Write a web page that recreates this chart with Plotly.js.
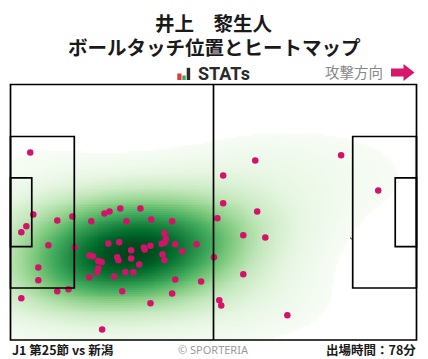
<!DOCTYPE html>
<html><head><meta charset="utf-8">
<script src="https://cdn.plot.ly/plotly-3.0.1.min.js"></script>
<style>html,body{margin:0;padding:0;background:#fff;}#chart{width:428px;height:359px;}</style>
</head><body><div id="chart"></div>
<script>
// Ball touch positions, pitch metres (x: 0..105 attacking to the right, y: 0 = top touchline .. 68)
const touchX = [5.1,5.9,16.0,12.1,20.9,24.3,25.6,28.4,33.6,30.0,36.4,41.8,4.1,2.8,9.8,16.6,25.3,28.1,39.8,40.2,39.8,39.1,42.6,48.1,44.4,36.2,34.5,34.7,31.2,39.3,39.8,31.2,27.6,27.9,33.3,20.4,21.3,22.7,23.6,22.7,22.4,29.7,31.8,26.8,20.4,7.2,7.2,12.1,15.0,2.8,28.9,42.6,41.8,49.3,36.2,23.7,52.6,63.3,55.0,85.5,95.1,55.0,63.8,53.5,60.2,65.9,60.2,54.0,54.5,71.6];
const touchY = [18.1,34.6,35.1,36.2,36.4,34.3,33.8,33.0,33.0,36.4,35.9,36.4,37.7,39.3,42.8,43.3,42.3,42.0,39.6,41.1,42.1,42.4,42.5,42.5,44.4,42.9,43.4,43.9,44.1,45.2,46.8,46.3,46.0,46.8,47.9,45.5,45.7,47.0,47.3,49.0,50.0,50.0,50.0,51.1,51.3,48.7,52.1,55.0,54.5,56.9,55.0,51.9,55.6,52.4,58.2,65.2,46.0,20.2,24.2,18.8,28.2,31.6,33.8,35.6,40.1,40.7,50.5,57.4,58.8,61.4];
const titleLines = ['井上　黎生人', 'ボールタッチ位置とヒートマップ'];
const brandText = 'STATs';
const directionText = '攻撃方向';
const matchText = 'J1 第25節 vs 新潟';
const creditText = '© SPORTERIA';
const minutesText = '出場時間：78分';
const greens = ['#f7fcf5','#e5f5e0','#c7e9c0','#a1d99b','#74c476','#41ab5d','#238b45','#006d2c','#00441b'];

// pitch geometry
const PL = 105, PW = 68;

// Gaussian KDE (Scott bandwidth x adjust, full covariance) of the touch positions
const bwAdjust = 1.6;
const n = touchX.length;
let mx = 0, my = 0;
for (let i = 0; i < n; i++) { mx += touchX[i]; my += touchY[i]; }
mx /= n; my /= n;
let sxx = 0, syy = 0, sxy = 0;
for (let i = 0; i < n; i++) {
  const dx = touchX[i] - mx, dy = touchY[i] - my;
  sxx += dx * dx; syy += dy * dy; sxy += dx * dy;
}
sxx /= (n - 1); syy /= (n - 1); sxy /= (n - 1);
const f2 = Math.pow(n, -1 / 3) * bwAdjust * bwAdjust;
const cxx = sxx * f2, cyy = syy * f2, cxy = sxy * f2;
const det = cxx * cyy - cxy * cxy;
const ixx = cyy / det, iyy = cxx / det, ixy = -cxy / det;
const step = 0.5;
const gx = [], gy = [];
for (let x = 0; x <= PL + 1e-9; x += step) gx.push(+x.toFixed(2));
for (let y = 0; y <= PW + 1e-9; y += step) gy.push(+y.toFixed(2));
const flat = [];
for (let j = 0; j < gy.length; j++) {
  for (let i = 0; i < gx.length; i++) {
    let s = 0;
    for (let k = 0; k < n; k++) {
      const dx = gx[i] - touchX[k], dy = gy[j] - touchY[k];
      s += Math.exp(-0.5 * (dx * dx * ixx + 2 * dx * dy * ixy + dy * dy * iyy));
    }
    flat.push(s);
  }
}
// iso-proportion transform (share of mass at or below each density)
const order = flat.map((v, i) => i).sort((a, b) => flat[a] - flat[b]);
const total = flat.reduce((a, b) => a + b, 0);
const q = new Array(flat.length);
let cum = 0;
for (const idx of order) { cum += flat[idx]; q[idx] = cum / total; }
const thresh = 0.03;
const zq = [];
for (let j = 0; j < gy.length; j++) {
  const row = [];
  for (let i = 0; i < gx.length; i++) {
    const v = q[j * gx.length + i];
    row.push(v < thresh ? null : v);
  }
  zq.push(row);
}
const colorscale = greens.map((c, i) => [i / (greens.length - 1), c]);

// layout geometry (pixels)
const W = 428, H = 359;
const mL = 5, mR = 6, mT = 80, mB = 14;
const areaW = W - mL - mR, areaH = H - mT - mB;
const PX = p => (p - mL) / areaW;
const PY = p => (H - mB - p) / areaH;

function arcPath(cx, cy, r, a0, a1) {
  let d = '';
  const steps = 40;
  for (let s = 0; s <= steps; s++) {
    const a = (a0 + (a1 - a0) * s / steps) * Math.PI / 180;
    const x = cx + r * Math.cos(a), y = cy + r * Math.sin(a);
    d += (s === 0 ? 'M ' : ' L ') + x.toFixed(3) + ',' + y.toFixed(3);
  }
  return d;
}
const lineStyle = {color: '#000', width: 1.7};
const arcA = Math.acos(5.5 / 9.15) * 180 / Math.PI;
const shapes = [
  {type: 'circle', xref: 'x', yref: 'y', x0: PL / 2 - 9.15, x1: PL / 2 + 9.15, y0: PW / 2 - 9.15, y1: PW / 2 + 9.15, line: {color: '#000', width: 1}, layer: 'below'},
  {type: 'path', xref: 'x', yref: 'y', path: arcPath(11, PW / 2, 9.15, -arcA, arcA), line: {color: '#000', width: 1}, layer: 'below'},
  {type: 'path', xref: 'x', yref: 'y', path: arcPath(PL - 11, PW / 2, 9.15, 180 - arcA, 180 + arcA), line: {color: '#000', width: 1}, layer: 'below'},
  {type: 'rect', xref: 'x', yref: 'y', x0: 0, x1: PL, y0: 0, y1: PW, line: lineStyle},
  {type: 'line', xref: 'x', yref: 'y', x0: PL / 2, x1: PL / 2, y0: 0, y1: PW, line: lineStyle},
  {type: 'rect', xref: 'x', yref: 'y', x0: 0, x1: 16.5, y0: PW / 2 - 20.16, y1: PW / 2 + 20.16, line: lineStyle},
  {type: 'rect', xref: 'x', yref: 'y', x0: 0, x1: 5.5, y0: PW / 2 - 9.16, y1: PW / 2 + 9.16, line: lineStyle},
  {type: 'rect', xref: 'x', yref: 'y', x0: PL - 16.5, x1: PL, y0: PW / 2 - 20.16, y1: PW / 2 + 20.16, line: lineStyle},
  {type: 'rect', xref: 'x', yref: 'y', x0: PL - 5.5, x1: PL, y0: PW / 2 - 9.16, y1: PW / 2 + 9.16, line: lineStyle},
  // STATs logo bars
  {type: 'rect', xref: 'paper', yref: 'paper', x0: PX(177.3), x1: PX(181.5), y0: PY(80), y1: PY(73.5), fillcolor: '#e53935', line: {width: 0}},
  {type: 'rect', xref: 'paper', yref: 'paper', x0: PX(182.3), x1: PX(185.7), y0: PY(80), y1: PY(75.5), fillcolor: '#34a853', line: {width: 0}},
  {type: 'rect', xref: 'paper', yref: 'paper', x0: PX(186.7), x1: PX(190.2), y0: PY(80), y1: PY(67.8), fillcolor: '#2b2b2b', line: {width: 0}},
  // direction arrow
  {type: 'path', xref: 'paper', yref: 'paper',
   path: 'M ' + PX(391) + ',' + PY(68.5) + ' L ' + PX(403.5) + ',' + PY(68.5) + ' L ' + PX(403.5) + ',' + PY(64) +
         ' L ' + PX(414.5) + ',' + PY(72.5) + ' L ' + PX(403.5) + ',' + PY(81) + ' L ' + PX(403.5) + ',' + PY(76.5) +
         ' L ' + PX(391) + ',' + PY(76.5) + ' Z',
   fillcolor: '#d6176a', line: {width: 0}}
];

const cjk = '"Noto Sans CJK JP", "Noto Sans", sans-serif';
const annotations = [
  {text: '<b>' + titleLines[0] + '</b>', x: PX(214), y: PY(22), font: {family: cjk, size: 19.5, color: '#1a1a1a'}},
  {text: '<b>' + titleLines[1] + '</b>', x: PX(214), y: PY(46), font: {family: cjk, size: 19.5, color: '#1a1a1a'}},
  {text: '<b>' + brandText + '</b>', x: PX(195.5), y: PY(73.5), xanchor: 'left', font: {family: 'Roboto, sans-serif', size: 18, color: '#2b2b2b'}},
  {text: directionText, x: PX(385), y: PY(71.5), xanchor: 'right', font: {family: cjk, size: 14.5, color: '#888888'}},
  {text: '<b>' + matchText + '</b>', x: PX(10), y: PY(349), xanchor: 'left', font: {family: cjk, size: 12.5, color: '#1a1a1a'}},
  {text: creditText, x: PX(213.5), y: PY(349), font: {family: '"Noto Sans", sans-serif', size: 11, color: '#9a9a9a'}},
  {text: '<b>' + minutesText + '</b>', x: PX(417.5), y: PY(349), xanchor: 'right', font: {family: cjk, size: 12.5, color: '#1a1a1a'}}
].map(a => Object.assign({xref: 'paper', yref: 'paper', showarrow: false, yanchor: 'middle', xanchor: 'center'}, a));

const data = [
  {type: 'heatmap', x: gx, y: gy, z: zq, zmin: thresh, zmax: 1, colorscale: colorscale,
   showscale: false, hoverinfo: 'skip', zsmooth: false},
  {type: 'scatter', mode: 'markers', x: touchX, y: touchY,
   marker: {color: '#d5116b', size: 6.5, line: {width: 0}}, hoverinfo: 'x+y'}
];
const pxPerMX = 406 / PL, pxPerMY = 255.5 / PW;
const layout = {
  width: W, height: H,
  margin: {l: mL, r: mR, t: mT, b: mB, pad: 0},
  paper_bgcolor: '#fff', plot_bgcolor: '#fff',
  showlegend: false,
  xaxis: {range: [-(10.5 - mL) / pxPerMX, PL + (W - mR - 416.5) / pxPerMX], visible: false, fixedrange: true},
  yaxis: {range: [PW + (H - mB - 340) / pxPerMY, -(84.5 - mT) / pxPerMY], visible: false, fixedrange: true},
  shapes: shapes,
  annotations: annotations
};
Plotly.newPlot('chart', data, layout, {displayModeBar: false, staticPlot: true});
</script>
</body></html>
